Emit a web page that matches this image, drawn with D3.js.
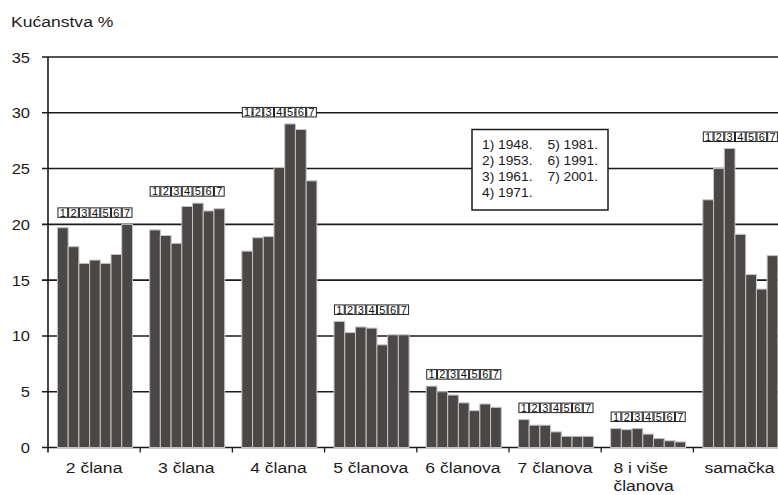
<!DOCTYPE html>
<html>
<head>
<meta charset="utf-8">
<script src="https://cdn.jsdelivr.net/npm/d3@7"></script>
<style>
	html, body { margin: 0; padding: 0; background: #fff; }
	svg { display: block; font-family: "Liberation Sans", Arial, sans-serif; }
</style>
</head>
<body>
<svg id="chart"></svg>
<script>
// household size categories
const CATEGORIES = ["2 člana", "3 člana", "4 člana", "5 članova", "6 članova", "7 članova", "8 i više članova", "samačka"];
// census codes shown above every group, and the years they stand for
const CODES = ["1", "2", "3", "4", "5", "6", "7"];
const YEARS = ["1948.", "1953.", "1961.", "1971.", "1981.", "1991.", "2001."];

// share of households (%) per census, in category order
const v1948 = [19.7, 19.5, 17.6, 11.3, 5.5, 2.5, 1.7, 22.2];
const v1953 = [18.0, 19.0, 18.8, 10.3, 5.0, 2.0, 1.6, 25.0];
const v1961 = [16.5, 18.3, 18.9, 10.8, 4.7, 2.0, 1.7, 26.8];
const v1971 = [16.8, 21.6, 25.1, 10.7, 4.0, 1.4, 1.2, 19.1];
const v1981 = [16.5, 21.9, 29.0, 9.2, 3.3, 1.0, 0.8, 15.5];
const v1991 = [17.3, 21.2, 28.5, 10.1, 3.9, 1.0, 0.6, 14.2];
const v2001 = [20.0, 21.4, 23.9, 10.1, 3.6, 1.0, 0.5, 17.2];

const Y_TICKS = [0, 5, 10, 15, 20, 25, 30, 35];

const SERIES = [v1948, v1953, v1961, v1971, v1981, v1991, v2001];

const width = 778, height = 495;
const margin = {left: 48, top: 57, bottom: 47};
const bandStep = 92.2;

const svg = d3.select("#chart")
	.attr("width", width)
	.attr("height", height);

const x = d3.scaleBand()
	.domain(CATEGORIES)
	.range([margin.left, margin.left + bandStep * CATEGORIES.length])
	.padding(0);

const xInner = d3.scaleBand()
	.domain(CODES)
	.range([0, x.bandwidth()])
	.paddingInner(0)
	.paddingOuter(0.8)
	.align(0.55);

const y = d3.scaleLinear()
	.domain([0, 35])
	.range([height - margin.bottom - 0.5, margin.top]);

const ink = "#1e1a1b";

// text in the reference is a bit wider than its height suggests
function stretched(sel, sx) {
	return sel.attr("transform", function() {
		const t = d3.select(this);
		const px = +t.attr("data-x"), py = +t.attr("data-y");
		return `translate(${px},${py}) scale(${sx},1)`;
	});
}

//title
svg.append("text")
	.attr("data-x", 11).attr("data-y", 27)
	.attr("font-size", 15)
	.attr("fill", ink)
	.text("Kućanstva %")
	.call(stretched, 1.17);

//gridlines (include the zero line)
svg.append("g")
	.selectAll("line")
	.data(Y_TICKS)
	.join("line")
	.attr("x1", margin.left - 6)
	.attr("x2", width)
	.attr("y1", (d) => y(d))
	.attr("y2", (d) => y(d))
	.attr("stroke", ink)
	.attr("stroke-width", 1.6);

//y axis line
svg.append("line")
	.attr("x1", margin.left).attr("x2", margin.left)
	.attr("y1", y(35)).attr("y2", y(0) + 5)
	.attr("stroke", ink)
	.attr("stroke-width", 1.6);

//y tick labels
svg.append("g")
	.selectAll("text")
	.data(Y_TICKS)
	.join("text")
	.attr("data-x", 30)
	.attr("data-y", (d) => y(d) + 5.5)
	.attr("text-anchor", "end")
	.attr("font-size", 15)
	.attr("fill", ink)
	.text((d) => d)
	.call(stretched, 1.1);

//x ticks at band boundaries
svg.append("g")
	.selectAll("line")
	.data(CATEGORIES.slice(1))
	.join("line")
	.attr("x1", (d) => x(d))
	.attr("x2", (d) => x(d))
	.attr("y1", y(0))
	.attr("y2", y(0) + 5)
	.attr("stroke", ink)
	.attr("stroke-width", 1.3);

//bars
const groups = svg.append("g")
	.selectAll("g")
	.data(CATEGORIES)
	.join("g")
	.attr("transform", (d) => `translate(${x(d)},0)`);

groups.selectAll("rect")
	.data((d, i) => SERIES.map((s, j) => ({code: CODES[j], value: s[i]})))
	.join("rect")
	.attr("x", (d) => xInner(d.code))
	.attr("y", (d) => y(d.value))
	.attr("width", xInner.bandwidth())
	.attr("height", (d) => y(0) - y(d.value))
	.attr("fill", "#4b4747")
	.attr("stroke", "#c4c2c2")
	.attr("stroke-width", 1);

//code boxes above each group
const codeRow = groups.append("g")
	.attr("transform", (d, i) => `translate(0,${y(d3.max(SERIES, (s) => s[i])) - 16.5})`);

codeRow.selectAll("rect")
	.data(CODES)
	.join("rect")
	.attr("x", (d) => xInner(d) + 0.5)
	.attr("y", 0)
	.attr("width", xInner.bandwidth() - 1)
	.attr("height", 9.5)
	.attr("fill", "#fff")
	.attr("stroke", "#222")
	.attr("stroke-width", 1);

codeRow.selectAll("text")
	.data(CODES)
	.join("text")
	.attr("x", (d) => xInner(d) + xInner.bandwidth() / 2)
	.attr("y", 8.8)
	.attr("text-anchor", "middle")
	.attr("font-size", 11)
	.attr("fill", "#111")
	.text((d) => d);

//category labels
const catLabels = svg.append("g")
	.selectAll("text")
	.data(CATEGORIES)
	.join("text")
	.attr("data-x", (d) => x(d) + x.bandwidth() / 2)
	.attr("data-y", y(0) + 25)
	.attr("text-anchor", "middle")
	.attr("font-size", 15)
	.attr("fill", ink)
	.call(stretched, 1.17);

catLabels.each(function(d) {
	const t = d3.select(this);
	if (d.startsWith("8 i")) {
		t.attr("text-anchor", "start");
		t.append("tspan").attr("x", -29).attr("y", 0).text("8 i više");
		t.append("tspan").attr("x", -29).attr("y", 19).text("članova");
	} else {
		t.text(d);
	}
});

//legend of census years
const legend = svg.append("g").attr("transform", "translate(472,129.5)");
legend.append("rect")
	.attr("width", 136)
	.attr("height", 80.5)
	.attr("fill", "#fff")
	.attr("stroke", ink)
	.attr("stroke-width", 1.5);

legend.selectAll("text")
	.data(YEARS)
	.join("text")
	.attr("data-x", (d, i) => (i < 4 ? 10 : 75.5))
	.attr("data-y", (d, i) => 19.5 + (i % 4) * 16)
	.attr("font-size", 13)
	.attr("fill", ink)
	.text((d, i) => `${CODES[i]}) ${d}`)
	.call(stretched, 1.06);
</script>
</body>
</html>
